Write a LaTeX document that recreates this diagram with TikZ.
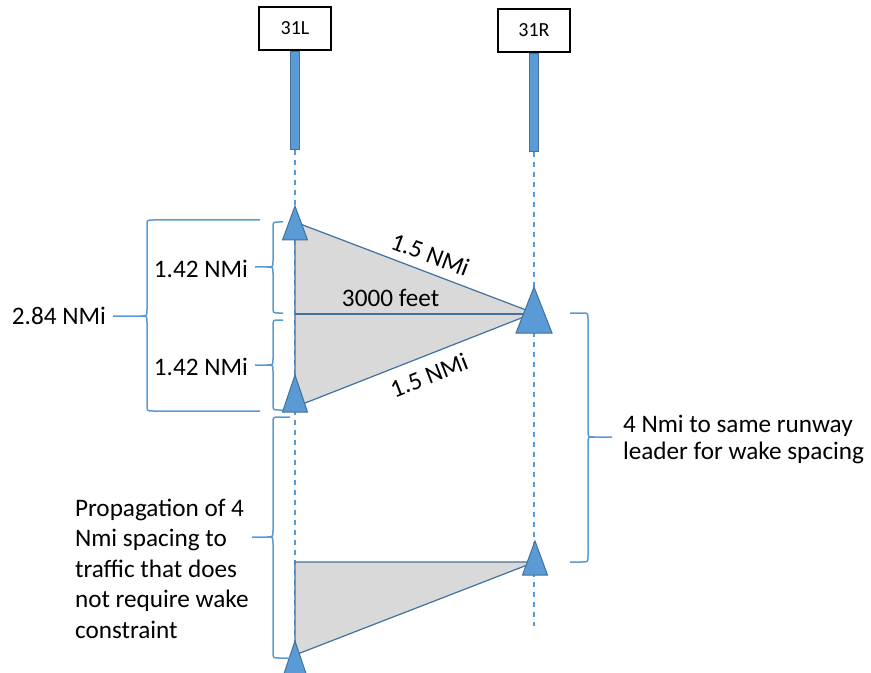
\documentclass[tikz,border=0pt]{standalone}
\usepackage{fontspec}
\setmainfont{Carlito}
\usetikzlibrary{positioning}
\definecolor{planeblue}{HTML}{5B9BD5}
\definecolor{edgeblue}{HTML}{41719C}
\definecolor{gapgray}{HTML}{D9D9D9}
\tikzset{
	sign box/.style={draw, line width=0.75pt, fill=white,
		minimum width=36pt, minimum height=21.5pt, inner sep=0pt,
		font=\fontsize{10}{12}\selectfont},
	runway bar/.style={draw=edgeblue, fill=planeblue, line width=0.4pt,
		minimum width=4.5pt, minimum height=49pt, inner sep=0pt},
	centre line/.style={draw=planeblue, line width=0.8pt, dash pattern=on 2.5pt off 2.5pt},
	gap/.style={draw=edgeblue, fill=gapgray, line width=0.6pt},
	lateral/.style={draw=edgeblue, line width=1.1pt},
	plane/.style={draw=edgeblue, fill=planeblue, line width=0.5pt},
	brace line/.style={draw=planeblue, line width=0.75pt}
}
% aircraft marker: name, apex, half base, height
\newcommand{\aircraft}[4]{%
	\coordinate (#1) at #2;
	\draw[plane] (#1) -- ++(#3,#4) -- ++({-2*#3},0) -- cycle;}
% brace: name, end x, spine x, tip x, top y, mid y, bottom y, corner
\newcommand{\spanbrace}[8]{%
	\coordinate (#1) at (#4,#6);
	\draw[brace line] (#2,#5) -- ({#3+(#8)},#5) .. controls (#3,#5) .. (#3,#5+6)
	-- (#3,#6-6) .. controls (#3,#6) .. ({#3-(#8)},#6) -- (#1)
	({#3-(#8)},#6) .. controls (#3,#6) .. (#3,#6+6)
	-- (#3,#7-6) .. controls (#3,#7) .. ({#3+(#8)},#7) -- (#2,#7);}

\begin{document}
\begin{tikzpicture}[x=0.5pt, y=-0.5pt, font=\fontsize{12.6}{15.2}\selectfont]
	\useasboundingbox (0,0) rectangle (871,673);
	% runway signs and bars
	\node[sign box] (rwyL) at (295,28.5) {31L};
	\node[sign box] (rwyR) at (534,30.5) {31R};
	\node[runway bar, below=0pt of rwyL] (barL) {};
	\node[runway bar, below=0pt of rwyR] (barR) {};
	% extended centre lines
	\coordinate (endL) at (295,680);
	\coordinate (endR) at (534,626);
	\draw[centre line] (barL.south) -- (endL);
	\draw[centre line] (barR.south) -- (endR);
	% shaded spacing areas
	\coordinate (gapTop) at (295,222);
	\coordinate (gapTip) at (534,313);
	\coordinate (gapBot) at (295,407);
	\draw[gap] (gapTop) -- (gapTip) -- (gapBot) -- cycle;
	\coordinate (propTop) at (295,562);
	\coordinate (propTip) at (535,562);
	\coordinate (propBot) at (295,655);
	\draw[gap] (propTop) -- (propTip) -- (propBot) -- cycle;
	% distances
	\coordinate (latL) at (295,314);
	\coordinate (latR) at (534,314);
	\draw[lateral] (latL) -- node[pos=0.40, above, inner sep=3pt] (latlabel) {3000 feet} (latR);
	\path (gapTop) -- node[sloped, above=1pt, pos=0.54] (diagA) {1.5 NMi} (gapTip);
	\path (gapBot) -- node[sloped, below=2pt, pos=0.53] (diagB) {1.5 NMi} (gapTip);
	% aircraft
	\aircraft{acA}{(295,206)}{12.5}{34}
	\aircraft{acB}{(534,287)}{18}{46}
	\aircraft{acC}{(295,375)}{12.5}{37}
	\aircraft{acD}{(535,541)}{12.5}{34}
	\aircraft{acE}{(295,641)}{12.5}{37}
	% braces
	\spanbrace{tipA}{283}{273}{255}{222}{267}{313}{6}
	\spanbrace{tipB}{283}{273}{255}{320}{365}{410}{6}
	\spanbrace{tipBig}{260}{147}{113}{220}{316}{411}{6}
	\spanbrace{tipProp}{290}{273}{252}{417}{537}{658}{6}
	\spanbrace{tipLead}{570}{588}{612}{313}{437}{562}{-6}
	% labels
	\node[left=0pt of tipA, yshift=-1pt] (halfA) {1.42 NMi};
	\node[left=0pt of tipB, yshift=-1pt] (halfB) {1.42 NMi};
	\node[left=0pt of tipBig] (total) {2.84 NMi};
	\node[anchor=base west, align=left] (propnote) at (68,638)
	{Propagation of 4\\Nmi spacing to\\traffic that does\\not require wake\\constraint};
	\node[anchor=base west, align=left, font=\fontsize{12.6}{13.5}\selectfont] (leadnote) at (616,459)
	{4 Nmi to same runway\\leader for wake spacing};
\end{tikzpicture}
\end{document}
